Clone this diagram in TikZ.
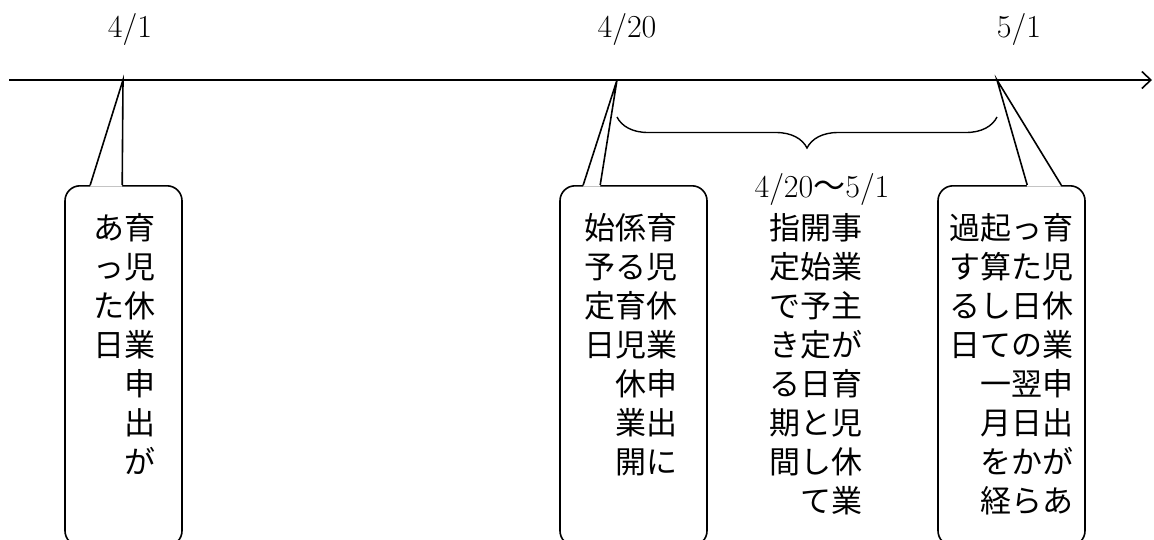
\documentclass[tikz,border=0pt]{standalone}
\usepackage{fontspec}
\setmainfont{Latin Modern Roman}
\newfontfamily\jpfont{Noto Sans CJK JP}
\usetikzlibrary{arrows.meta,decorations.pathreplacing}

\begin{document}
\begin{tikzpicture}[x=1pt,y=-1pt,line width=1.6pt,
    date node/.style={font=\fontsize{32}{36}\selectfont,anchor=base,inner sep=0pt},
    box node/.style={draw,rounded corners=15pt,minimum height=360pt,anchor=north,inner sep=0pt},
    text node/.style={font=\jpfont\fontsize{31}{39}\selectfont,align=right,anchor=base,inner sep=0pt}]

    \useasboundingbox (0,0) rectangle (1154,539);

    % Define axis points
    \coordinate (s) at (9,80);
    \coordinate (e) at (1152,80);
    \coordinate (t1) at (123,80);
    \coordinate (t2) at (617,80);
    \coordinate (t3) at (997,80);

    % Define boxes
    \node[box node,minimum width=117pt] (box1) at (123.5,185) {};
    \node[box node,minimum width=147pt] (box2) at (633.5,185) {};
    \node[box node,minimum width=147pt] (box3) at (1011.5,185) {};

    % Draw pointers
    \fill[white] ([xshift=26pt,yshift=-1.5pt]box1.north west) -- (t1) -- ([xshift=58pt,yshift=-1.5pt]box1.north west) -- cycle;
    \draw ([xshift=26pt]box1.north west) -- (t1) -- ([xshift=58pt]box1.north west);
    \fill[white] ([xshift=24pt,yshift=-1.5pt]box2.north west) -- (t2) -- ([xshift=41pt,yshift=-1.5pt]box2.north west) -- cycle;
    \draw ([xshift=24pt]box2.north west) -- (t2) -- ([xshift=41pt]box2.north west);
    \fill[white] ([xshift=90pt,yshift=-1.5pt]box3.north west) -- (t3) -- ([xshift=124pt,yshift=-1.5pt]box3.north west) -- cycle;
    \draw ([xshift=90pt]box3.north west) -- (t3) -- ([xshift=124pt]box3.north west);

    % Draw axis
    \draw[-{Straight Barb[length=9pt,width=17pt]}] (s) -- (e);

    % Date labels
    \node[date node] (d1) at (130,37) {4/1};
    \node[date node] (d2) at (627,37) {4/20};
    \node[date node] (d3) at (1019,37) {5/1};

    % Period brace
    \coordinate (b1) at (617,117);
    \coordinate (b2) at (997,117);
    \draw[line width=1.4pt,decorate,decoration={brace,mirror,amplitude=31pt}] (b1) -- (b2);
    \node[date node] (span) at (822,197) {4/20{\jpfont ～}5/1};

    % Texts (base = last line)
    \node[text node] (txt1) at (124.5,473) {あ育\\っ児\\た休\\日業\\申\\出\\が};
    \node[text node] (txt2) at (631,473) {始係育\\予る児\\定育休\\日児業\\休申\\業出\\開に};
    \node[text node] (txt3) at (816,512) {指開事\\定始業\\で予主\\き定が\\る日育\\期と児\\間し休\\て業};
    \node[text node] (txt4) at (1011,512) {過起っ育\\す算た児\\るし日休\\日ての業\\一翌申\\月日出\\をかが\\経らあ};

\end{tikzpicture}
\end{document}
